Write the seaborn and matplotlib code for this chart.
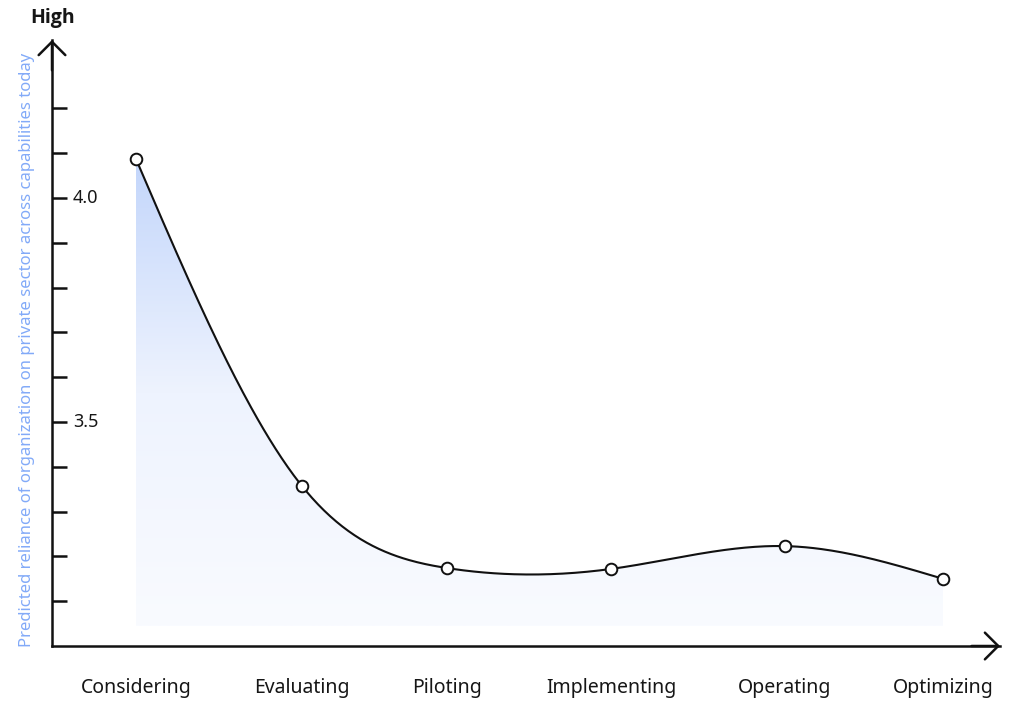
import numpy as np
import pandas as pd
import matplotlib
matplotlib.use("Agg")
import matplotlib.pyplot as plt
from matplotlib.colors import LinearSegmentedColormap
import seaborn as sns

# Adoption stages and the predicted reliance score at each stage
stages = ["Considering", "Evaluating", "Piloting", "Implementing", "Operating", "Optimizing"]
stage_x = [0.84, 2.50, 3.95, 5.59, 7.33, 8.91]
reliance = [4.087, 3.357, 3.174, 3.172, 3.223, 3.150]
y_ticks = [3.1, 3.2, 3.3, 3.4, 3.5, 3.6, 3.7, 3.8, 3.9, 4.0, 4.1, 4.2]
y_tick_labels = {4.0: "4.0", 3.5: "3.5"}
fill_floor = 3.045

df = pd.DataFrame({"stage": stages, "x": stage_x, "reliance": reliance})

sns.set_theme(style="white")
plt.rcParams["font.family"] = ["Noto Sans", "DejaVu Sans"]

W, H = 1012, 701
fig = plt.figure(figsize=(W / 100, H / 100), dpi=100)
ax_left, ax_bottom, ax_top, ax_right = 52, 646, 40, 1000
ax = fig.add_axes([ax_left / W, (H - ax_bottom) / H,
                   (ax_right - ax_left) / W, (ax_bottom - ax_top) / H])
ax.set_xlim(0, 9.48)
ax.set_ylim(3.0, 3.0 + (ax_bottom - ax_top) / 448.0)
ax.set_facecolor("none")


def natural_spline(x, y, n=400):
    """Natural cubic spline through (x, y), evaluated on a dense grid."""
    x = np.asarray(x, float)
    y = np.asarray(y, float)
    k = len(x)
    h = np.diff(x)
    A = np.zeros((k, k))
    b = np.zeros(k)
    A[0, 0] = A[-1, -1] = 1.0
    for i in range(1, k - 1):
        A[i, i - 1] = h[i - 1]
        A[i, i] = 2 * (h[i - 1] + h[i])
        A[i, i + 1] = h[i]
        b[i] = 3 * ((y[i + 1] - y[i]) / h[i] - (y[i] - y[i - 1]) / h[i - 1])
    c = np.linalg.solve(A, b)
    xs = np.linspace(x[0], x[-1], n)
    idx = np.clip(np.searchsorted(x, xs) - 1, 0, k - 2)
    dx = xs - x[idx]
    bb = (y[idx + 1] - y[idx]) / h[idx] - h[idx] * (2 * c[idx] + c[idx + 1]) / 3
    dd = (c[idx + 1] - c[idx]) / (3 * h[idx])
    ys = y[idx] + bb * dx + c[idx] * dx ** 2 + dd * dx ** 3
    return xs, ys


xs, ys = natural_spline(df["x"], df["reliance"])

# Gradient-filled area beneath the curve
poly = ax.fill_between(xs, ys, fill_floor, color="none", lw=0)
grad_cmap = LinearSegmentedColormap.from_list("fade", ["#f9fbff", "#eef3fe", "#c3d6fb"])
grad = np.linspace(0, 1, 256).reshape(-1, 1)
img = ax.imshow(grad, cmap=grad_cmap, aspect="auto", origin="lower",
                extent=[xs[0], xs[-1], fill_floor, max(ys)], zorder=1)
clip_path = poly.get_paths()[0]
img.set_clip_path(clip_path, transform=ax.transData)

# Smooth curve and stage markers
ax.plot(xs, ys, color="#111111", lw=1.5, zorder=3)
sns.scatterplot(data=df, x="x", y="reliance", ax=ax, s=70, color="white",
                edgecolor="#111111", linewidth=1.4, zorder=4, legend=False)
ax.set_xlabel("")
ax.set_ylabel("")

# Axes: only left and bottom, with open arrowheads
for side in ["top", "right"]:
    ax.spines[side].set_visible(False)
for side in ["left", "bottom"]:
    ax.spines[side].set_color("#111111")
    ax.spines[side].set_linewidth(1.8)

ax.set_xticks([])
ax.set_yticks(y_ticks)
ax.set_yticklabels([])
ax.tick_params(axis="y", direction="in", length=11, width=1.8, color="#111111", left=True)

arrow_kw = dict(arrowstyle="->,head_length=0.8,head_width=0.8", lw=1.8, color="#111111",
                shrinkA=0, shrinkB=0)
ax.annotate("", xy=(0, 1), xycoords="axes fraction", xytext=(0, 0.95),
            arrowprops=arrow_kw, annotation_clip=False)
ax.annotate("", xy=(1, 0), xycoords="axes fraction", xytext=(0.97, 0),
            arrowprops=arrow_kw, annotation_clip=False)

# Sparse numeric labels on the y axis
for val, lab in y_tick_labels.items():
    ax.text(21 / (ax_right - ax_left), val, lab, transform=ax.get_yaxis_transform(),
            ha="left", va="center", fontsize=13, color="#161616")

# Stage names along the x axis
for xv, name in zip(df["x"], df["stage"]):
    ax.annotate(name, xy=(xv, 0), xycoords=ax.get_xaxis_transform(),
                xytext=(0, -42), textcoords="offset pixels",
                ha="center", va="center", fontsize=14, color="#161616",
                annotation_clip=False)

fig.text(53 / W, 1 - 18 / H, "High", ha="center", va="center", fontsize=14,
         fontweight="bold", color="#161616", family=["Open Sans", "DejaVu Sans"])
fig.text(27 / W, 1 - 350 / H,
         "Predicted reliance of organization on private sector across capabilities today",
         rotation=90, ha="center", va="center", fontsize=12, color="#82aaf8")

fig.savefig("out.png", dpi=100)
